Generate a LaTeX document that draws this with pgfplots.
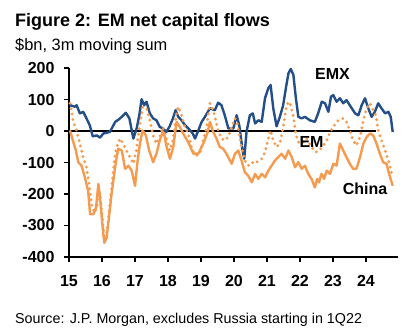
\documentclass[border=0pt]{standalone}
\usepackage{pgfplots}
\pgfplotsset{compat=1.18}
\usepackage{fontspec}
\setmainfont{Liberation Sans}
\definecolor{emxblue}{RGB}{35,78,135}
\definecolor{jporange}{RGB}{245,155,80}
\begin{document}
\begin{tikzpicture}
\begin{axis}[
  scale only axis,
  width=329pt, height=189pt,
  xmin=15, xmax=24.97, ymin=-400, ymax=200,
  axis x line*=bottom, axis y line*=left,
  axis line style={line width=1.6pt, black, -},
  tick style={line width=1.6pt, black},
  tick align=outside,
  major tick length=5pt,
  xtick={15,16,17,18,19,20,21,22,23,24},
  xticklabels={15,16,17,18,19,20,21,22,23,24},
  ytick={-400,-300,-200,-100,0,100,200},
  yticklabels={-400,-300,-200,-100,0,100,200},
  ticklabel style={font=\fontsize{16}{18}\selectfont\bfseries},
  yticklabel style={xshift=-6pt},
  xticklabel style={yshift=-10pt},
  clip=false,
]
\addplot[black, line width=1.6pt] coordinates {(15,0) (24.3,0)};
\addplot[jporange, line width=2.4pt, line join=round] coordinates {
(15.03,2) (15.13,-35) (15.21,-62) (15.28,-99) (15.38,-110) (15.48,-147) (15.58,-190) (15.64,-264) (15.74,-264) (15.82,-243) (15.89,-168) (15.94,-211) (16.02,-307) (16.07,-355) (16.14,-339) (16.21,-275) (16.29,-200) (16.39,-120) (16.49,-56) (16.6,-62) (16.7,-120) (16.8,-110) (16.9,-126) (17.0,-174) (17.08,-94) (17.15,-40) (17.23,2) (17.33,-14) (17.43,-62) (17.55,-99) (17.65,-72) (17.75,-30) (17.86,2) (17.96,-51) (18.06,-88) (18.16,-51) (18.26,29) (18.36,13) (18.46,-8) (18.61,-35) (18.77,-72) (18.92,-72) (19.07,-40) (19.2,-5) (19.27,29) (19.37,-3) (19.47,-24) (19.57,-51) (19.67,-56) (19.77,-72) (19.93,-104) (20.03,-72) (20.13,-62) (20.23,-94) (20.33,-131) (20.43,-142) (20.54,-163) (20.64,-136) (20.74,-152) (20.84,-136) (20.94,-147) (21.04,-126) (21.14,-110) (21.24,-94) (21.34,-83) (21.44,-72) (21.55,-88) (21.65,-62) (21.75,-83) (21.85,-115) (21.95,-99) (22.05,-120) (22.15,-110) (22.25,-136) (22.35,-152) (22.45,-179) (22.52,-152) (22.58,-163) (22.65,-136) (22.73,-152) (22.81,-126) (22.91,-136) (23.01,-104) (23.11,-110) (23.21,-40) (23.31,-62) (23.41,-83) (23.51,-104) (23.61,-120) (23.71,-120) (23.82,-83) (23.92,-40) (24.02,-19) (24.12,-8) (24.22,-14) (24.32,-40) (24.42,-72) (24.52,-99) (24.62,-104) (24.7,-136) (24.81,-174)
};
\addplot[emxblue, line width=2.4pt, line join=round] coordinates {
(15.03,82) (15.18,77) (15.23,82) (15.33,56) (15.43,61) (15.53,40) (15.63,18) (15.72,-17) (15.84,-14) (15.94,-21) (16.04,-8) (16.24,-3) (16.4,29) (16.5,36) (16.6,45) (16.72,58) (16.83,40) (16.95,-24) (17.05,8) (17.13,50) (17.2,101) (17.28,82) (17.35,93) (17.45,56) (17.55,40) (17.65,34) (17.75,13) (17.85,8) (17.95,-3) (18.05,15) (18.15,40) (18.23,66) (18.31,45) (18.41,34) (18.52,18) (18.62,8) (18.75,-8) (18.82,-24) (18.92,2) (19.02,29) (19.12,45) (19.27,72) (19.42,66) (19.52,90) (19.62,82) (19.72,50) (19.83,8) (19.98,8) (20.08,50) (20.16,18) (20.26,-62) (20.31,-88) (20.38,-3) (20.48,50) (20.57,56) (20.64,24) (20.74,34) (20.84,29) (20.94,104) (21.04,136) (21.11,146) (21.19,72) (21.29,15) (21.39,45) (21.49,82) (21.58,141) (21.65,183) (21.72,197) (21.8,178) (21.87,109) (21.95,45) (22.05,40) (22.15,45) (22.3,34) (22.45,29) (22.55,56) (22.66,93) (22.76,88) (22.86,61) (22.94,109) (23.01,114) (23.11,93) (23.21,104) (23.31,88) (23.41,98) (23.57,72) (23.67,56) (23.77,50) (23.87,82) (23.97,104) (24.07,72) (24.17,45) (24.27,61) (24.37,88) (24.47,72) (24.58,56) (24.68,61) (24.75,45) (24.81,-3)
};
\addplot[jporange, line width=3.2pt, line cap=round, dash pattern=on 0pt off 5.5pt] coordinates {
(15.03,88) (15.08,61) (15.13,29) (15.23,2) (15.33,-40) (15.43,-83) (15.53,-115) (15.61,-168) (15.68,-232) (15.77,-260) (15.85,-240) (15.9,-180) (15.96,-220) (16.03,-300) (16.08,-345) (16.15,-320) (16.22,-250) (16.3,-170) (16.38,-90) (16.44,-51) (16.55,-24) (16.64,-40) (16.74,-62) (16.85,-83) (16.95,-104) (17.04,-62) (17.15,24) (17.24,77) (17.35,72) (17.45,34) (17.55,-14) (17.65,-40) (17.75,-19) (17.85,13) (17.95,-24) (18.05,-62) (18.15,-30) (18.26,56) (18.31,77) (18.41,50) (18.51,13) (18.61,-8) (18.74,-62) (18.86,-78) (18.96,-72) (19.07,-30) (19.17,13) (19.27,88) (19.37,66) (19.42,45) (19.52,2) (19.62,-24) (19.72,-30) (19.83,-19) (19.93,13) (20.03,40) (20.1,24) (20.18,-24) (20.26,-67) (20.33,-94) (20.43,-110) (20.54,-99) (20.64,-104) (20.74,-94) (20.84,-88) (20.94,-67) (21.04,-24) (21.11,2) (21.19,-30) (21.29,-51) (21.39,-40) (21.49,13) (21.58,72) (21.65,93) (21.72,82) (21.8,45) (21.87,-8) (21.95,-35) (22.05,-40) (22.2,-24) (22.35,-51) (22.48,-67) (22.58,-62) (22.68,-51) (22.81,-30) (22.91,-3) (23.01,13) (23.16,34) (23.31,40) (23.41,29) (23.51,2) (23.61,-30) (23.71,-46) (23.82,-19) (23.92,34) (24.02,72) (24.12,88) (24.22,66) (24.3,50) (24.37,2) (24.47,-30) (24.58,-62) (24.68,-94) (24.78,-136)
};
\end{axis}
\node[anchor=base west, inner sep=0pt, font=\fontsize{18}{20}\selectfont\bfseries] at (-54pt,230.3pt) {Figure 2: EM net capital flows};
\node[anchor=base west, inner sep=0pt, font=\fontsize{16.4}{18}\selectfont] at (-54pt,207pt) {\$bn, 3m moving sum};
\node[anchor=base west, inner sep=0pt, font=\fontsize{14.3}{16}\selectfont] at (-54pt,-66pt) {Source: J.P. Morgan, excludes Russia starting in 1Q22};
\node[inner sep=0pt, font=\fontsize{16}{18}\selectfont\bfseries] at (263.5pt,183.5pt) {EMX};
\node[inner sep=0pt, font=\fontsize{16}{18}\selectfont\bfseries] at (242.5pt,115.5pt) {EM};
\node[inner sep=0pt, font=\fontsize{16}{18}\selectfont\bfseries] at (296pt,68.5pt) {China};
\pgfresetboundingbox
\useasboundingbox (-69pt,-76pt) rectangle (344pt,257pt);
\end{tikzpicture}
\end{document}
